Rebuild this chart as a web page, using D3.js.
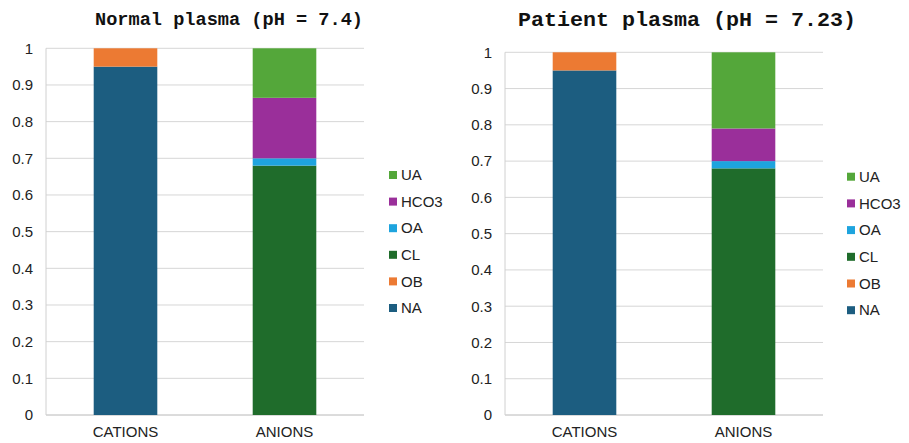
<!DOCTYPE html>
<html><head><meta charset="utf-8">
<script src="https://cdn.jsdelivr.net/npm/d3@7"></script>
<style>body{margin:0;background:#fff}svg{display:block}</style>
</head><body>
<script>
const categories = ["CATIONS", "ANIONS"];
const seriesNames = ["NA", "OB", "CL", "OA", "HCO3", "UA"];
const legendOrder = ["UA", "HCO3", "OA", "CL", "OB", "NA"];
const seriesColors = ["#1c5d80", "#ec7a33", "#1f6c2b", "#1ea4de", "#9a2f9a", "#54a73a"];
const yTicks = [0, 0.1, 0.2, 0.3, 0.4, 0.5, 0.6, 0.7, 0.8, 0.9, 1];
const yTickLabels = ["0", "0.1", "0.2", "0.3", "0.4", "0.5", "0.6", "0.7", "0.8", "0.9", "1"];

const titles = ["Normal plasma (pH = 7.4)", "Patient plasma (pH = 7.23)"];
// values per series, [CATIONS, ANIONS]
const normalNA = [0.95, 0], normalOB = [0.05, 0], normalCL = [0, 0.68], normalOA = [0, 0.02], normalHCO3 = [0, 0.165], normalUA = [0, 0.135];
const patientNA = [0.95, 0], patientOB = [0.05, 0], patientCL = [0, 0.68], patientOA = [0, 0.02], patientHCO3 = [0, 0.09], patientUA = [0, 0.21];

const datasets = [
  [normalNA, normalOB, normalCL, normalOA, normalHCO3, normalUA],
  [patientNA, patientOB, patientCL, patientOA, patientHCO3, patientUA]
];

const layouts = [
  {x0: 46, x1: 364, yTop: 48.3, yBot: 415, legX: 389, legY: 175, legStep: 26.6, titleX: 229, titleY: 25, titleSize: 18.5, titleLen: 268},
  {x0: 505, x1: 823, yTop: 52.3, yBot: 415, legX: 847, legY: 176.7, legStep: 26.7, titleX: 687, titleY: 26, titleSize: 20.5, titleLen: 338}
];

const svg = d3.select("body").append("svg").attr("width", 909).attr("height", 443);
const color = d3.scaleOrdinal().domain(seriesNames).range(seriesColors);

datasets.forEach((vals, ci) => {
  const L = layouts[ci];
  const g = svg.append("g");
  const x = d3.scaleBand().domain(categories).range([L.x0, L.x1]).paddingInner(0.6).paddingOuter(0.3);
  const y = d3.scaleLinear().domain([0, 1]).range([L.yBot, L.yTop]);

  // gridlines
  g.append("g").selectAll("line").data(yTicks).join("line")
    .attr("x1", L.x0).attr("x2", L.x1)
    .attr("y1", d => y(d)).attr("y2", d => y(d))
    .attr("stroke", d => d === 0 ? "#b8b8b8" : "#d6d6d6").attr("stroke-width", 1);
  // left vertical line
  g.append("line").attr("x1", L.x0).attr("x2", L.x0).attr("y1", y(1)).attr("y2", y(0))
    .attr("stroke", "#d0d0d0").attr("stroke-width", 1);

  // y axis labels
  const yAxis = d3.axisLeft(y).tickValues(yTicks).tickFormat((d, i) => yTickLabels[i]).tickSize(0).tickPadding(13);
  const ya = g.append("g").attr("transform", `translate(${L.x0},0)`).call(yAxis);
  ya.select(".domain").remove();
  ya.selectAll("text").attr("font-family", "Liberation Sans, Arial, sans-serif").attr("font-size", 15).attr("fill", "#222");

  // x axis labels
  const xAxis = d3.axisBottom(x).tickSize(0).tickPadding(11);
  const xa = g.append("g").attr("transform", `translate(0,${L.yBot})`).call(xAxis);
  xa.select(".domain").remove();
  xa.selectAll("text").attr("font-family", "Liberation Sans, Arial, sans-serif").attr("font-size", 15).attr("fill", "#222");

  // stacked bars
  const rows = categories.map((c, i) => {
    const r = {cat: c};
    seriesNames.forEach((s, si) => r[s] = vals[si][i]);
    return r;
  });
  const stack = d3.stack().keys(seriesNames)(rows);
  g.append("g").selectAll("g").data(stack).join("g")
    .attr("fill", d => color(d.key))
    .selectAll("rect").data(d => d).join("rect")
    .attr("x", d => x(d.data.cat))
    .attr("width", x.bandwidth())
    .attr("y", d => y(d[1]))
    .attr("height", d => Math.max(0, y(d[0]) - y(d[1])));

  // legend
  const leg = g.append("g").selectAll("g").data(legendOrder).join("g")
    .attr("transform", (d, i) => `translate(${L.legX},${L.legY + i * L.legStep})`);
  leg.append("rect").attr("x", 0).attr("y", -4).attr("width", 8).attr("height", 8).attr("fill", d => color(d));
  leg.append("text").attr("x", 12).attr("y", 0).attr("dy", "0.35em").text(d => d)
    .attr("font-family", "Liberation Sans, Arial, sans-serif").attr("font-size", 15).attr("fill", "#222");

  // title
  g.append("text").attr("x", L.titleX).attr("y", L.titleY).attr("text-anchor", "middle")
    .attr("font-family", "Liberation Mono, Courier New, monospace").attr("font-weight", "bold")
    .attr("font-size", L.titleSize).attr("fill", "#111")
    .attr("textLength", L.titleLen).attr("lengthAdjust", "spacingAndGlyphs")
    .text(titles[ci]);
});
</script>
</body></html>
